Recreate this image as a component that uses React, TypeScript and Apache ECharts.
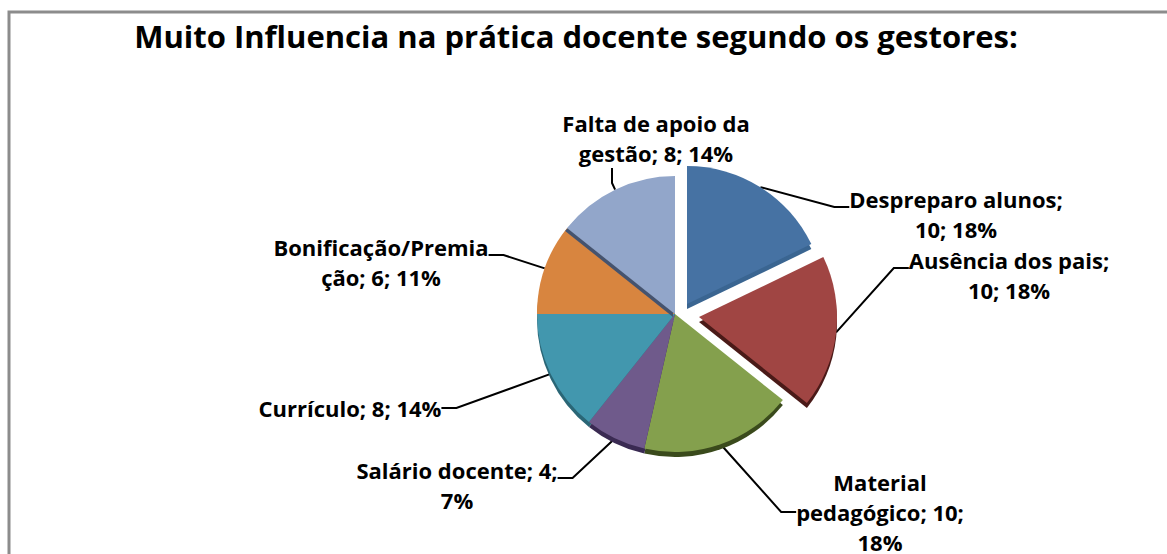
import React, { useEffect, useRef } from "react";
import * as echarts from "echarts";

const titleText = "Muito Influencia na prática docente segundo os gestores:";
const categories = ["Despreparo alunos", "Ausência dos pais", "Material pedagógico", "Salário docente", "Currículo", "Bonificação/Premiação", "Falta de apoio da gestão"];
const values = [10, 10, 10, 4, 8, 6, 8];
const labelTexts = [
  "Despreparo alunos;\n10; 18%",
  "Ausência dos pais;\n10; 18%",
  "Material\npedagógico; 10;\n18%",
  "Salário docente; 4;\n7%",
  "Currículo; 8; 14%",
  "Bonificação/Premia\nção; 6; 11%",
  "Falta de apoio da\ngestão; 8; 14%",
];
const topColors = ["#4672A3", "#A04543", "#84A04D", "#6F5A8B", "#4297AE", "#D8853F", "#92A6CA"];
const sideColors = ["#3A6591", "#4A1A18", "#3A4A1C", "#3A2A52", "#2A6676", "#9A5A20", "#44536E"];
// label placement: centre-x and top of the label box, and padding that moves the leader's anchor
const labelAnchors: [number, number][] = [[956, 170], [1009, 231], [880, 467], [457, 441], [350, 393], [381, 218], [612, 108]];
const labelPads: number[][] = [[14, 0, 0, 0], [14, 0, 0, 0], [0, 0, 0, 0], [14, 0, 0, 0], [0, 0, 0, 0], [14, 0, 0, 0], [0, 0, 0, 88]];
// each group of slices is pulled out of the pie by its own offset
const sliceGroups: { slices: number[]; dx: number; dy: number }[] = [
  { slices: [2, 3, 4, 5, 6], dx: 0, dy: 0 },
  { slices: [0], dx: 12, dy: -10 },
  { slices: [1], dx: 24, dy: 3 },
];
const CX = 675;
const CY = 314;
const R = 138;
const DEPTH = 5;
const font = "'Open Sans', sans-serif";

const hiddenItem = (i: number) => ({
  name: categories[i],
  value: values[i],
  itemStyle: { color: "transparent" },
  label: { show: false },
  labelLine: { show: false },
});

function depthSeries(g: { slices: number[]; dx: number; dy: number }) {
  return {
    type: "pie",
    silent: true,
    center: [CX + g.dx, CY + g.dy + DEPTH],
    radius: R,
    startAngle: 90,
    clockwise: true,
    avoidLabelOverlap: false,
    label: { show: false },
    labelLine: { show: false },
    data: categories.map((name, i) =>
      g.slices.includes(i) ? { name, value: values[i], itemStyle: { color: sideColors[i] } } : hiddenItem(i)
    ),
  };
}

function topSeries(g: { slices: number[]; dx: number; dy: number }) {
  return {
    type: "pie",
    silent: true,
    center: [CX + g.dx, CY + g.dy],
    radius: R,
    startAngle: 90,
    clockwise: true,
    avoidLabelOverlap: false,
    labelLine: { show: true, length: 20, length2: 15, smooth: false, lineStyle: { color: "#000", width: 2 } },
    labelLayout: (p: any) => ({
      x: labelAnchors[p.dataIndex][0],
      y: labelAnchors[p.dataIndex][1],
      align: "center",
      verticalAlign: "top",
    }),
    data: categories.map((name, i) =>
      g.slices.includes(i)
        ? {
            name,
            value: values[i],
            itemStyle:
              i === 6
                ? { color: topColors[i], shadowColor: sideColors[i], shadowOffsetX: -2, shadowOffsetY: 3, shadowBlur: 0.5 }
                : { color: topColors[i] },
            label: {
              show: true,
              formatter: labelTexts[i],
              fontFamily: font,
              fontWeight: "bold",
              fontSize: 22,
              lineHeight: 30,
              color: "#000",
              align: "center",
              padding: labelPads[i],
            },
          }
        : hiddenItem(i)
    ),
  };
}

export default function App() {
  const ref = useRef<HTMLDivElement>(null);
  useEffect(() => {
    document.body.style.margin = "0";
    const chart = echarts.init(ref.current!, null, { renderer: "svg" });
    chart.setOption({
      animation: false,
      backgroundColor: "#fff",
      title: {
        text: titleText,
        left: 571,
        textAlign: "center",
        top: 15,
        textStyle: { fontFamily: font, fontWeight: "bold", fontSize: 31, color: "#000" },
      },
      graphic: [
        { type: "polyline", shape: { points: [[9, 554], [9, 12], [1167, 12]] }, style: { stroke: "#8c8c8c", lineWidth: 3, fill: "none" }, silent: true },
      ],
      series: [...sliceGroups.map(depthSeries), ...sliceGroups.map(topSeries)],
    });
    return () => chart.dispose();
  }, []);
  return <div ref={ref} style={{ width: 1167, height: 554 }} />;
}
